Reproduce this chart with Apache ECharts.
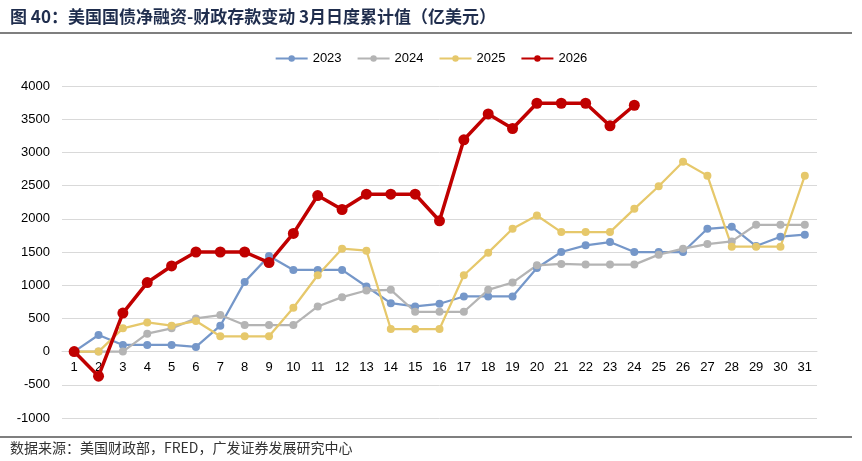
<!DOCTYPE html>
<html>
<head>
<meta charset="utf-8">
<script src="https://cdn.jsdelivr.net/npm/echarts@6/dist/echarts.min.js"></script>
<style>
html,body{margin:0;padding:0;background:#fff;}
#c{width:862px;height:461px;}
</style>
</head>
<body>
<div id="c"></div>
<script>
const days = ['1','2','3','4','5','6','7','8','9','10','11','12','13','14','15','16','17','18','19','20','21','22','23','24','25','26','27','28','29','30','31'];
const s2023 = [0,250,100,100,100,70,390,1050,1440,1230,1230,1230,980,730,680,720,830,830,830,1260,1500,1600,1650,1500,1500,1500,1850,1880,1590,1730,1760];
const s2024 = [0,0,0,270,350,500,550,400,400,400,680,820,920,930,600,600,600,930,1040,1300,1320,1310,1310,1310,1460,1550,1620,1660,1910,1910,1910];
const s2025 = [0,0,350,440,390,460,230,230,230,660,1150,1550,1520,340,340,340,1150,1490,1850,2050,1800,1800,1800,2150,2490,2860,2650,1580,1580,1580,2650];
const s2026 = [0,-370,580,1040,1290,1500,1500,1500,1340,1780,2350,2140,2370,2370,2370,1970,3190,3580,3360,3740,3740,3740,3400,3710];
const yTicks = {min:-1000, max:4000, interval:500};

const gridTop = 86, gridBottom = 43, H = 461;
const gridH = H - gridTop - gridBottom;
const zeroOffset = gridH * (0 - yTicks.min) / (yTicks.max - yTicks.min);

const chart = echarts.init(document.getElementById('c'));
function ser(name, data, color, w, sym){
  return {name, type:'line', data, symbol:'circle', symbolSize:sym,
    itemStyle:{color}, lineStyle:{color, width:w}, emphasis:{disabled:true}, animation:false};
}
chart.setOption({
  animation:false,
  graphic:[
    {type:'text', left:10, top:8, style:{text:'图 40：美国国债净融资-财政存款变动 3月日度累计值（亿美元）', font:'bold 17px "Noto Sans CJK SC"', fill:'#1f2d4d'}},
    {type:'line', shape:{x1:0,y1:33,x2:852,y2:33}, style:{stroke:'#000', lineWidth:1.2}},
    {type:'line', shape:{x1:0,y1:437,x2:852,y2:437}, style:{stroke:'#000', lineWidth:1.2}},
    {type:'text', left:10, top:441, style:{text:'数据来源：美国财政部，FRED，广发证券发展研究中心', font:'14px "Noto Sans CJK SC"', fill:'#333'}}
  ],
  legend:{top:47, left:'center', itemWidth:32, itemHeight:8, itemGap:15,
    textStyle:{fontSize:13, color:'#000', fontFamily:'Arial, "Liberation Sans"'},
    data:['2023','2024','2025','2026']},
  grid:{left:62, right:45, top:gridTop, bottom:gridBottom},
  xAxis:{type:'category', data:days, boundaryGap:true, offset:-zeroOffset,
    axisLine:{show:true, onZero:false, lineStyle:{color:'#d9d9d9', width:1}}, axisTick:{show:false},
    axisLabel:{color:'#000', fontSize:13, margin:9, fontFamily:'Arial, "Liberation Sans"', interval:0}},
  yAxis:{type:'value', min:yTicks.min, max:yTicks.max, interval:yTicks.interval,
    axisLine:{show:false}, axisTick:{show:false},
    axisLabel:{color:'#000', fontSize:13, margin:12, fontFamily:'Arial, "Liberation Sans"', formatter:function(v){return String(v);}},
    splitLine:{lineStyle:{color:'#d9d9d9', width:1}}},
  series:[
    ser('2023', s2023, '#7597c9', 2.25, 8),
    ser('2024', s2024, '#b4b4b4', 2.25, 8),
    ser('2025', s2025, '#e6c86b', 2.25, 8),
    ser('2026', s2026, '#c00000', 3.5, 11)
  ]
});
</script>
</body>
</html>
